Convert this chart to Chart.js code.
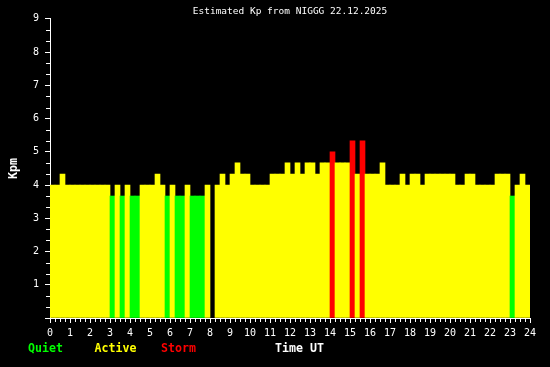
<!DOCTYPE html>
<html>
<head>
<meta charset="utf-8">
<script src="https://cdn.jsdelivr.net/npm/chart.js@4"></script>
<style>
  html, body { margin: 0; padding: 0; background: #000; }
</style>
</head>
<body>
<canvas id="kpChart" width="550" height="367"></canvas>
<script>
const titleText = 'Estimated Kp from NIGGG 22.12.2025'
// estimated Kp, one value per 15 min starting 00:00 UT, null = no data
const kpm = [
    4, 4, 4.33, 4,            // 0h
    4, 4, 4, 4,               // 1h
    4, 4, 4, 4,               // 2h
    3.67, 4, 3.67, 4,         // 3h
    3.67, 3.67, 4, 4,         // 4h
    4, 4.33, 4, 3.67,         // 5h
    4, 3.67, 3.67, 4,         // 6h
    3.67, 3.67, 3.67, 4,      // 7h
    null, 4, 4.33, 4,         // 8h
    4.33, 4.67, 4.33, 4.33,   // 9h
    4, 4, 4, 4,               // 10h
    4.33, 4.33, 4.33, 4.67,   // 11h
    4.33, 4.67, 4.33, 4.67,   // 12h
    4.67, 4.33, 4.67, 4.67,   // 13h
    5, 4.67, 4.67, 4.67,      // 14h
    5.33, 4.33, 5.33, 4.33,   // 15h
    4.33, 4.33, 4.67, 4,      // 16h
    4, 4, 4.33, 4,            // 17h
    4.33, 4.33, 4, 4.33,      // 18h
    4.33, 4.33, 4.33, 4.33,   // 19h
    4.33, 4, 4, 4.33,         // 20h
    4.33, 4, 4, 4,            // 21h
    4, 4.33, 4.33, 4.33,      // 22h
    3.67, 4, 4.33, 4          // 23h
]
const stepsPerHour = 4
const keyNames = ['Quiet', 'Active', 'Storm']
const keyColors = ['#00ff00', '#ffff00', '#ff0000']
const keyLimits = [4, 5]   // Active from 4, Storm from 5
const xAxisName = 'Time UT'

const mono = 'DejaVu Sans Mono'
const boldFont = 'bold 11.6px "' + mono + '"'

function colorFor(v) {
    if (v >= keyLimits[1]) return keyColors[2]
    if (v >= keyLimits[0]) return keyColors[1]
    return keyColors[0]
}

// short ticks every 15 min on x and every 1/3 on y
const minorTicks = {
    id: 'minorTicks',
    afterDraw(chart) {
        const { ctx, scales: { x, y } } = chart
        ctx.save()
        ctx.strokeStyle = '#fff'
        ctx.lineWidth = 1
        ctx.beginPath()
        for (let k = 1; k < 24 * stepsPerHour; k++) {
            if (k % stepsPerHour == 0) continue
            const px = Math.round(x.getPixelForValue(k / stepsPerHour)) + 0.5
            ctx.moveTo(px, y.bottom)
            ctx.lineTo(px, y.bottom + 4)
        }
        for (let k = 1; k < 27; k++) {
            if (k % 3 == 0) continue
            const py = Math.round(y.getPixelForValue(k / 3)) + 0.5
            ctx.moveTo(x.left - 4, py)
            ctx.lineTo(x.left, py)
        }
        ctx.stroke()
        ctx.restore()
    }
}

// colour key + axis name on the bottom row
const colorKey = {
    id: 'colorKey',
    afterDraw(chart) {
        const { ctx } = chart
        ctx.save()
        ctx.font = boldFont
        ctx.textBaseline = 'middle'
        ctx.textAlign = 'left'
        keyNames.forEach((name, i) => {
            ctx.fillStyle = keyColors[i]
            ctx.fillText(name, 28 + i * 66.5, 349)
        })
        ctx.fillStyle = '#fff'
        ctx.fillText(xAxisName, 275, 349)
        ctx.restore()
    }
}

const points = kpm.map((v, i) => ({ x: (i + 0.5) / stepsPerHour, y: v }))

new Chart(document.getElementById('kpChart'), {
    type: 'bar',
    data: {
        datasets: [{
            data: points,
            backgroundColor: kpm.map(v => colorFor(v)),
            borderWidth: 0,
            categoryPercentage: 1,
            barPercentage: 1
        }]
    },
    options: {
        responsive: false,
        animation: false,
        devicePixelRatio: 1,
        layout: { padding: { right: 20 } },
        plugins: {
            legend: { display: false },
            tooltip: { enabled: false },
            title: {
                display: true,
                fullSize: false,
                text: titleText,
                color: '#fff',
                font: { family: mono, size: 9.5, weight: 'normal', lineHeight: 1.25 },
                padding: { top: 6, bottom: 1 }
            }
        },
        scales: {
            x: {
                type: 'linear',
                min: 0,
                max: 24,
                offset: false,
                grid: { offset: false, drawOnChartArea: false, tickLength: 5, tickColor: '#fff' },
                border: { color: '#fff' },
                ticks: {
                    stepSize: 1,
                    autoSkip: false,
                    maxRotation: 0,
                    color: '#fff',
                    padding: 4,
                    font: { family: mono, size: 10 }
                },
                afterFit: (s) => { s.height = 49 }
            },
            y: {
                min: 0,
                max: 9,
                grid: { drawOnChartArea: false, tickLength: 5, tickColor: '#fff' },
                border: { color: '#fff' },
                ticks: {
                    stepSize: 1,
                    color: '#fff',
                    padding: 6,
                    font: { family: mono, size: 10 },
                    callback: (v) => v == 0 ? '' : v
                },
                title: {
                    display: true,
                    text: 'Kpm',
                    color: '#fff',
                    font: { family: mono, size: 11.6, weight: 'bold' },
                    padding: { top: 7, bottom: 0 }
                },
                afterFit: (s) => { s.width = 50 }
            }
        }
    },
    plugins: [minorTicks, colorKey]
})
</script>
</body>
</html>
